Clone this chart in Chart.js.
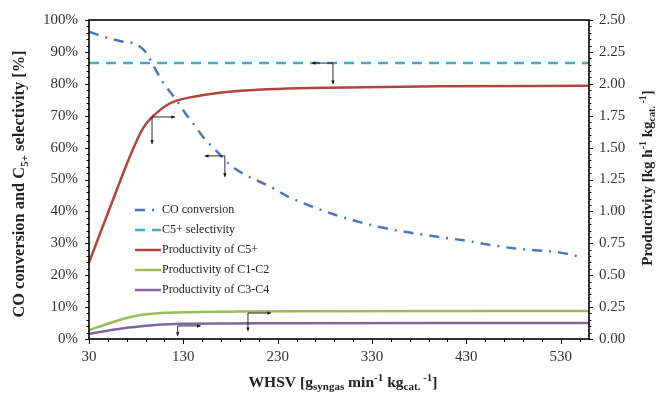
<!DOCTYPE html>
<html>
<head>
<meta charset="utf-8">
<script src="https://cdn.jsdelivr.net/npm/chart.js@4.4.1/dist/chart.umd.min.js"></script>
<style>
  body { margin: 0; background: #fff; }
  canvas { display: block; }
</style>
</head>
<body>
<canvas id="grafico" width="659" height="394"></canvas>
<script>
// data
const xTicks = [30, 130, 230, 330, 430, 530];

const coX = [30, 52, 66, 80, 91, 98, 108, 121, 132, 142, 151, 161, 182, 225, 242, 285, 309, 338, 373, 425, 478, 531, 552];
const coY = [96.3, 94.2, 93.2, 92.4, 89.6, 85.9, 80.6, 75.5, 70.8, 67, 63.3, 60.2, 54, 47.3, 44.5, 39.5, 37.3, 35.1, 33.2, 31, 28.5, 27, 25.7];

const selX = [30, 560];
const selY = [86.5, 86.5];

const c5X = [30, 60, 70, 75, 81, 86, 91, 97, 103, 110, 118, 150, 182, 230, 285, 400, 560];
const c5Y = [0.60, 1.18, 1.37, 1.46, 1.56, 1.635, 1.69, 1.74, 1.78, 1.82, 1.855, 1.91, 1.94, 1.96, 1.97, 1.98, 1.985];

const c12X = [30, 50, 70, 85, 100, 133, 180, 250, 560];
const c12Y = [0.07, 0.12, 0.165, 0.188, 0.200, 0.210, 0.214, 0.218, 0.22];

const c34X = [30, 50, 70, 85, 100, 126, 180, 250, 560];
const c34Y = [0.04, 0.065, 0.088, 0.10, 0.11, 0.12, 0.122, 0.124, 0.125];

// small corner arrows (x in WHSV, y in % of left axis)
const arrows = [
  { x: 288.6, y: 86.5, h: -21, v: 21 },
  { x: 96.8, y: 69.6, h: 23, v: 27 },
  { x: 174, y: 57.4, h: -20, v: 21 },
  { x: 124, y: 4.1, h: 23, v: 10 },
  { x: 198.5, y: 8.15, h: 23, v: 18 }
];

const pts = (xs, ys) => xs.map((x, i) => ({ x: x, y: ys[i] }));
const serif = '"Liberation Serif", "Times New Roman", serif';

function richText(ctx, parts, size, align) {
  // parts: [text, mode] with mode '', 'sub' or 'sup'
  const fontOf = m => 'bold ' + (m ? Math.round(size * 0.68) : size) + 'px ' + serif;
  let w = 0;
  parts.forEach(p => { ctx.font = fontOf(p[1]); w += ctx.measureText(p[0]).width; });
  let x = align === 'center' ? -w / 2 : 0;
  parts.forEach(p => {
    ctx.font = fontOf(p[1]);
    const dy = p[1] === 'sub' ? size * 0.22 : p[1] === 'sup' ? -size * 0.38 : 0;
    ctx.fillText(p[0], x, dy);
    x += ctx.measureText(p[0]).width;
  });
}

function arrowLine(ctx, x1, y1, x2, y2) {
  ctx.beginPath();
  ctx.moveTo(x1, y1);
  ctx.lineTo(x2, y2);
  ctx.stroke();
  const ang = Math.atan2(y2 - y1, x2 - x1);
  ctx.beginPath();
  ctx.moveTo(x2, y2);
  ctx.lineTo(x2 - 4 * Math.cos(ang - 0.45), y2 - 4 * Math.sin(ang - 0.45));
  ctx.lineTo(x2 - 4 * Math.cos(ang + 0.45), y2 - 4 * Math.sin(ang + 0.45));
  ctx.closePath();
  ctx.fill();
}

const decor = {
  id: 'decor',
  afterDraw(chart) {
    const { ctx, chartArea: a, scales } = chart;
    const x = scales.x, y = scales.y, y1 = scales.y1;
    ctx.save();

    // tick marks
    ctx.strokeStyle = '#000';
    ctx.lineWidth = 1;
    ctx.beginPath();
    for (let v = 0; v <= 100.001; v += 2) {
      const py = Math.round(y.getPixelForValue(v)) + 0.5;
      const len = Math.round(v) % 10 === 0 ? 4 : 2.5;
      ctx.moveTo(a.left, py); ctx.lineTo(a.left - len, py);
    }
    for (let k = 0; k <= 50; k++) {
      const v = k * 0.05;
      const py = Math.round(y1.getPixelForValue(v)) + 0.5;
      const len = k % 5 === 0 ? 4 : 2.5;
      ctx.moveTo(a.right, py); ctx.lineTo(a.right + len, py);
    }
    for (let v = 30; v <= 560; v += 20) {
      const px = Math.round(x.getPixelForValue(v)) + 0.5;
      const len = (v - 30) % 100 === 0 ? 5 : 3;
      ctx.moveTo(px, a.bottom); ctx.lineTo(px, a.bottom + len);
    }
    ctx.stroke();

    // frame
    ctx.lineWidth = 1.6;
    ctx.strokeRect(a.left, a.top, a.right - a.left, a.bottom - a.top);

    // arrows
    ctx.lineWidth = 0.9;
    ctx.strokeStyle = '#111';
    ctx.fillStyle = '#111';
    arrows.forEach(ar => {
      const cx = x.getPixelForValue(ar.x), cy = y.getPixelForValue(ar.y);
      arrowLine(ctx, cx, cy, cx + ar.h, cy);
      arrowLine(ctx, cx, cy, cx, cy + ar.v);
    });

    // legend
    ctx.font = '12px ' + serif;
    ctx.textBaseline = 'middle';
    chart.data.datasets.forEach((ds, i) => {
      const ly = a.top + 190 + i * 20;
      const lx = a.left + 46;
      ctx.strokeStyle = ds.borderColor;
      ctx.lineWidth = ds.borderWidth;
      ctx.setLineDash(ds.borderDash || []);
      ctx.beginPath();
      ctx.moveTo(lx, ly); ctx.lineTo(lx + 26, ly);
      ctx.stroke();
      ctx.setLineDash([]);
      ctx.fillStyle = '#222';
      ctx.fillText(ds.label, lx + 27, ly);
    });

    // axis titles
    ctx.fillStyle = '#222';
    ctx.textBaseline = 'alphabetic';
    ctx.save();
    ctx.translate(343, 387);
    richText(ctx, [['WHSV [g', ''], ['syngas', 'sub'], [' min', ''], ['-1', 'sup'], [' kg', ''], ['cat.', 'sub'], [' -1', 'sup'], [']', '']], 15.6, 'center');
    ctx.restore();

    ctx.save();
    ctx.translate(24, 184);
    ctx.rotate(-Math.PI / 2);
    richText(ctx, [['CO conversion and C', ''], ['5+', 'sub'], [' selectivity [%]', '']], 16.4, 'center');
    ctx.restore();

    ctx.save();
    ctx.translate(652, 178);
    ctx.rotate(-Math.PI / 2);
    richText(ctx, [['Productivity [kg h', ''], ['-1', 'sup'], [' kg', ''], ['cat.', 'sub'], [' -1', 'sup'], [']', '']], 15, 'center');
    ctx.restore();

    ctx.restore();
  }
};

const grafico = new Chart(document.getElementById('grafico').getContext('2d'), {
  type: 'line',
  data: {
    datasets: [
      { label: 'CO conversion', data: pts(coX, coY), yAxisID: 'y', borderColor: '#4f74bf', borderWidth: 2.5, borderDash: [10, 7, 2, 7] },
      { label: 'C5+ selectivity', data: pts(selX, selY), yAxisID: 'y', borderColor: '#4ba6c8', borderWidth: 2.5, borderDash: [10, 7] },
      { label: 'Productivity of C5+', data: pts(c5X, c5Y), yAxisID: 'y1', borderColor: '#b0443f', borderWidth: 2.5 },
      { label: 'Productivity of C1-C2', data: pts(c12X, c12Y), yAxisID: 'y1', borderColor: '#9bbb59', borderWidth: 2.5 },
      { label: 'Productivity of C3-C4', data: pts(c34X, c34Y), yAxisID: 'y1', borderColor: '#8064a2', borderWidth: 2.5 }
    ]
  },
  options: {
    responsive: false,
    animation: false,
    layout: { padding: { top: 20 } },
    elements: {
      point: { radius: 0 },
      line: { cubicInterpolationMode: 'monotone', fill: false }
    },
    plugins: {
      legend: { display: false },
      tooltip: { enabled: false }
    },
    scales: {
      x: {
        type: 'linear',
        min: 30,
        max: 560,
        afterBuildTicks: s => { s.ticks = xTicks.map(v => ({ value: v })); },
        afterFit: s => { s.height = 55; },
        grid: { display: false, drawTicks: false },
        border: { display: false },
        ticks: { padding: 9, color: '#333', font: { family: serif, size: 15 } }
      },
      y: {
        position: 'left',
        min: 0,
        max: 100,
        afterFit: s => { s.width = 89; },
        grid: { display: false, drawTicks: false },
        border: { display: false },
        ticks: { stepSize: 10, padding: 11, color: '#333', font: { family: serif, size: 15 }, callback: v => v + '%' }
      },
      y1: {
        position: 'right',
        min: 0,
        max: 2.5,
        afterFit: s => { s.width = 70; },
        grid: { display: false, drawTicks: false },
        border: { display: false },
        ticks: { stepSize: 0.25, padding: 10, color: '#333', font: { family: serif, size: 15 }, callback: v => v.toFixed(2) }
      }
    }
  },
  plugins: [decor]
});
</script>
</body>
</html>
